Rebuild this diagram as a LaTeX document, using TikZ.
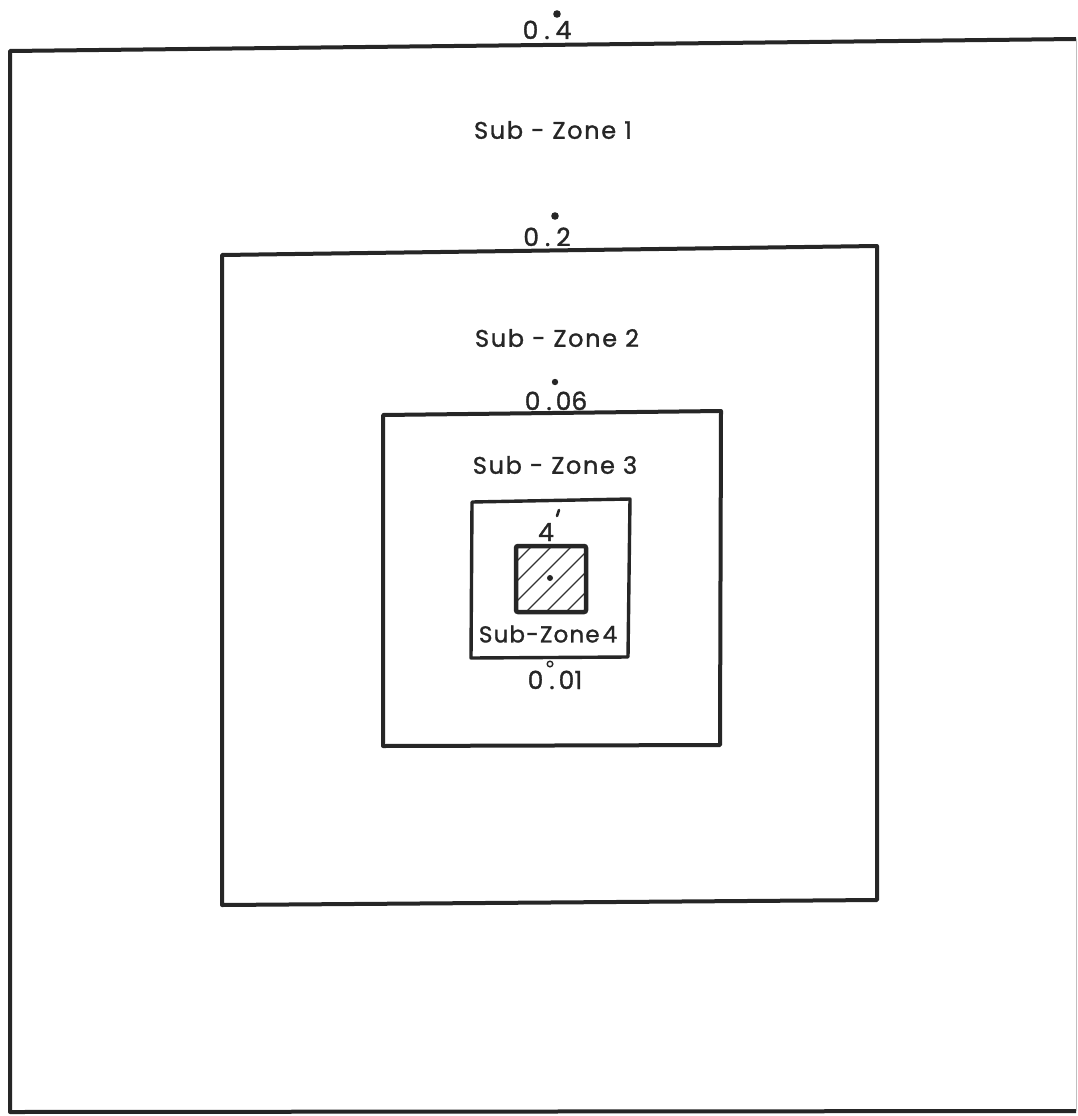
\documentclass[tikz,border=0pt]{standalone}
\usepackage{fontspec}
\setmainfont{Poppins}[FakeBold=1.2]
\begin{document}
\begin{tikzpicture}[x=1pt,y=-1pt,
  zone/.style={line width=4pt, line join=round, draw=black!85},
  lab/.style={font=\fontsize{25}{30}\selectfont, inner sep=0pt, text=black!85},
  sz/.style={lab, font=\fontsize{24}{30}\selectfont\addfontfeatures{LetterSpace=7}}]
\useasboundingbox (0,0) rectangle (1078,1116);
\fill[white] (0,0) rectangle (1078,1116);
% outer zone
\coordinate (o1) at (10,51);
\coordinate (o2) at (1076,39);
\coordinate (o3) at (1076,1111);
\coordinate (o4) at (10,1112);
\draw[zone] (o2) -- (o1) -- (o4) -- (o3);
\draw[line width=1pt, black!25] (o2) -- (o3);
% zone 2
\draw[zone] (222,255) -- (877,246) -- (877,900) -- (222,905) -- cycle;
% zone 3
\draw[zone] (383,415) -- (721,411) -- (720,745) -- (383,746) -- cycle;
% zone 4
\draw[zone, line width=3.4pt] (472,502) -- (630,499) -- (628,657) -- (471,658) -- cycle;
% hatched source
\begin{scope}
\clip (516,546) rectangle (586,612);
\foreach \k in {-70,-50,...,90} {
  \draw[line width=1.2pt, black!80] (516+\k,612) -- (586+\k,542);
}
\end{scope}
\draw[line width=4.5pt, rounded corners=2pt, black!85] (516,546) rectangle (586,612);
\fill[black!85] (550,578) circle (3);
% labels
\node[lab, anchor=base] (l4) at (547,39) {0\hspace{6pt}.\hspace{6pt}4};
\fill[black!85] (557,14) circle (3.8);
\node[sz] (s1) at (553,130) {Sub - Zone 1};
\node[lab, anchor=base] (l2) at (547,246) {0\hspace{6pt}.\hspace{6pt}2};
\fill[black!85] (555,216) circle (3.8);
\node[sz] (s2) at (557,338) {Sub - Zone 2};
\node[lab, anchor=base] (l06) at (556,410) {0\hspace{6pt}.\hspace{4pt}06};
\fill[black!85] (555,382) circle (3.2);
\node[sz] (s3) at (555,465) {Sub - Zone 3};
\node[lab, anchor=base] (l4s) at (546,541) {4};
\draw[line width=2.6pt, black!85, line cap=round] (557,516) -- (559,510);
\node[lab, font=\fontsize{23}{30}\selectfont\addfontfeatures{LetterSpace=5}] (s4) at (548,634) {Sub-Zone\hspace{3pt}4};
\node[lab, anchor=base] (l01) at (555,689) {0\hspace{6pt}.\hspace{4pt}01};
\draw[line width=1.4pt, black!85] (550,664) circle (2.8);
\end{tikzpicture}
\end{document}
